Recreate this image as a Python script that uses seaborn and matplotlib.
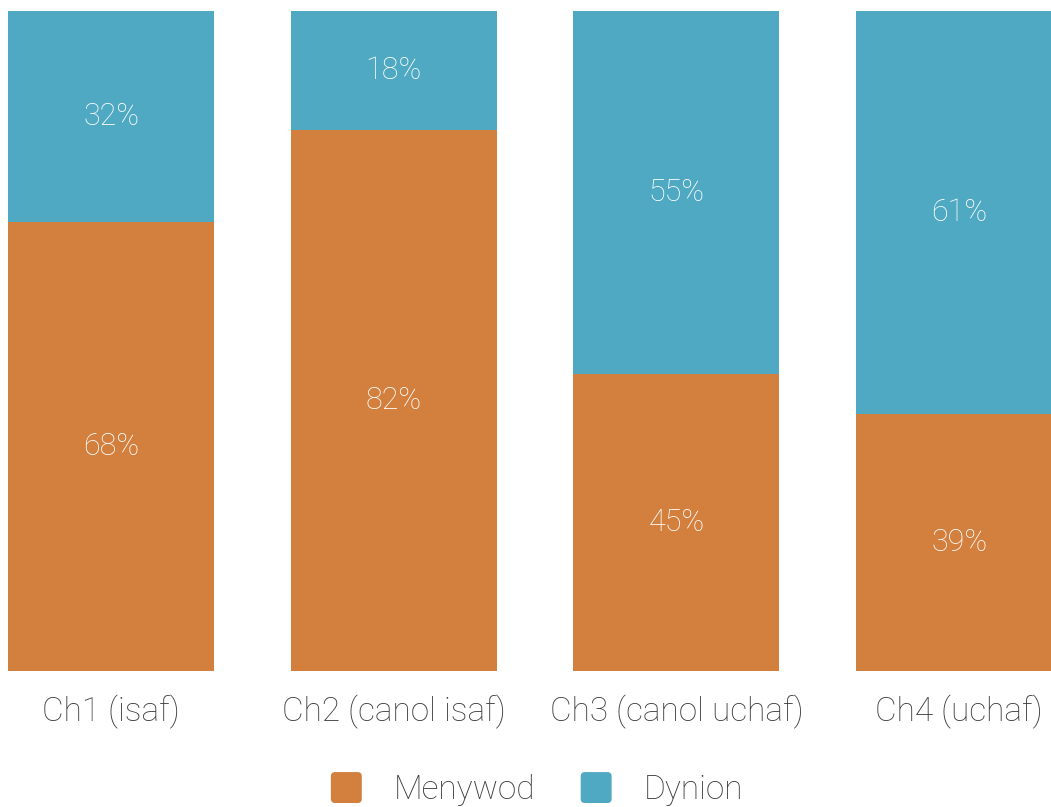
import matplotlib
matplotlib.use("Agg")
import matplotlib.pyplot as plt
import seaborn as sns
import pandas as pd
from matplotlib.patches import Patch, FancyBboxPatch
from matplotlib.legend_handler import HandlerPatch

categories = ["Ch1 (isaf)", "Ch2 (canol isaf)", "Ch3 (canol uchaf)", "Ch4 (uchaf)"]
menywod = [68, 82, 45, 39]
dynion = [32, 18, 55, 61]
series_names = ["Menywod", "Dynion"]

ORANGE = "#D37F3E"
BLUE = "#50A9C2"
TEXT = "#3c3c3c"

sns.set_theme(style="white")
plt.rcParams["font.family"] = ["Roboto", "DejaVu Sans"]

df = pd.DataFrame({"cat": categories, "Menywod": menywod, "Dynion": dynion})
df["total"] = df["Menywod"] + df["Dynion"]

fig = plt.figure(figsize=(10.51, 8.07), dpi=100)
W, H = 1051, 807
ax = fig.add_axes([0, (H - 671) / H, 1, 660 / H])

step = 282.7
first_center = 111
bar_w = 206 / step

# stacked: full-height blue first, then orange on top of it
sns.barplot(data=df, x="cat", y="total", color=BLUE, width=bar_w,
            saturation=1, ax=ax, order=categories, linewidth=0, edgecolor="none")
sns.barplot(data=df, x="cat", y="Menywod", color=ORANGE, width=bar_w,
            saturation=1, ax=ax, order=categories, linewidth=0, edgecolor="none")

ax.set_xlim(-first_center / step, (W - first_center) / step)
ax.set_ylim(0, 100)
ax.set_xlabel("")
ax.set_ylabel("")
ax.set_yticks([])
for s in ax.spines.values():
    s.set_visible(False)
ax.tick_params(axis="x", length=0, pad=17, labelsize=24, labelcolor=TEXT)
for lbl in ax.get_xticklabels():
    lbl.set_fontweight("light")

for i, (m, d) in enumerate(zip(menywod, dynion)):
    ax.text(i, m / 2, f"{m}%", ha="center", va="center", color="white",
            fontsize=22, fontweight="light")
    ax.text(i, m + d / 2, f"{d}%", ha="center", va="center", color="white",
            fontsize=22, fontweight="light")


class RoundedSquare(HandlerPatch):
    def create_artists(self, legend, orig_handle, xdescent, ydescent,
                       width, height, fontsize, trans):
        side = min(width, height)
        p = FancyBboxPatch((-xdescent + (width - side) / 2, -ydescent + (height - side) / 2),
                           side, side, boxstyle="round,pad=0,rounding_size=3",
                           facecolor=orig_handle.get_facecolor(), edgecolor="none",
                           transform=trans)
        return [p]


handles = [Patch(facecolor=ORANGE, edgecolor="none"),
           Patch(facecolor=BLUE, edgecolor="none")]
leg = fig.legend(handles, series_names, loc="center", bbox_to_anchor=(536 / W, 1 - 789 / H),
                 ncol=2, frameon=False, fontsize=24, handlelength=1.05, handleheight=1.05,
                 handletextpad=0.9, columnspacing=1.3, labelcolor=TEXT,
                 handler_map={Patch: RoundedSquare()})
for t in leg.get_texts():
    t.set_fontweight("light")

fig.savefig("out.png", dpi=100)
